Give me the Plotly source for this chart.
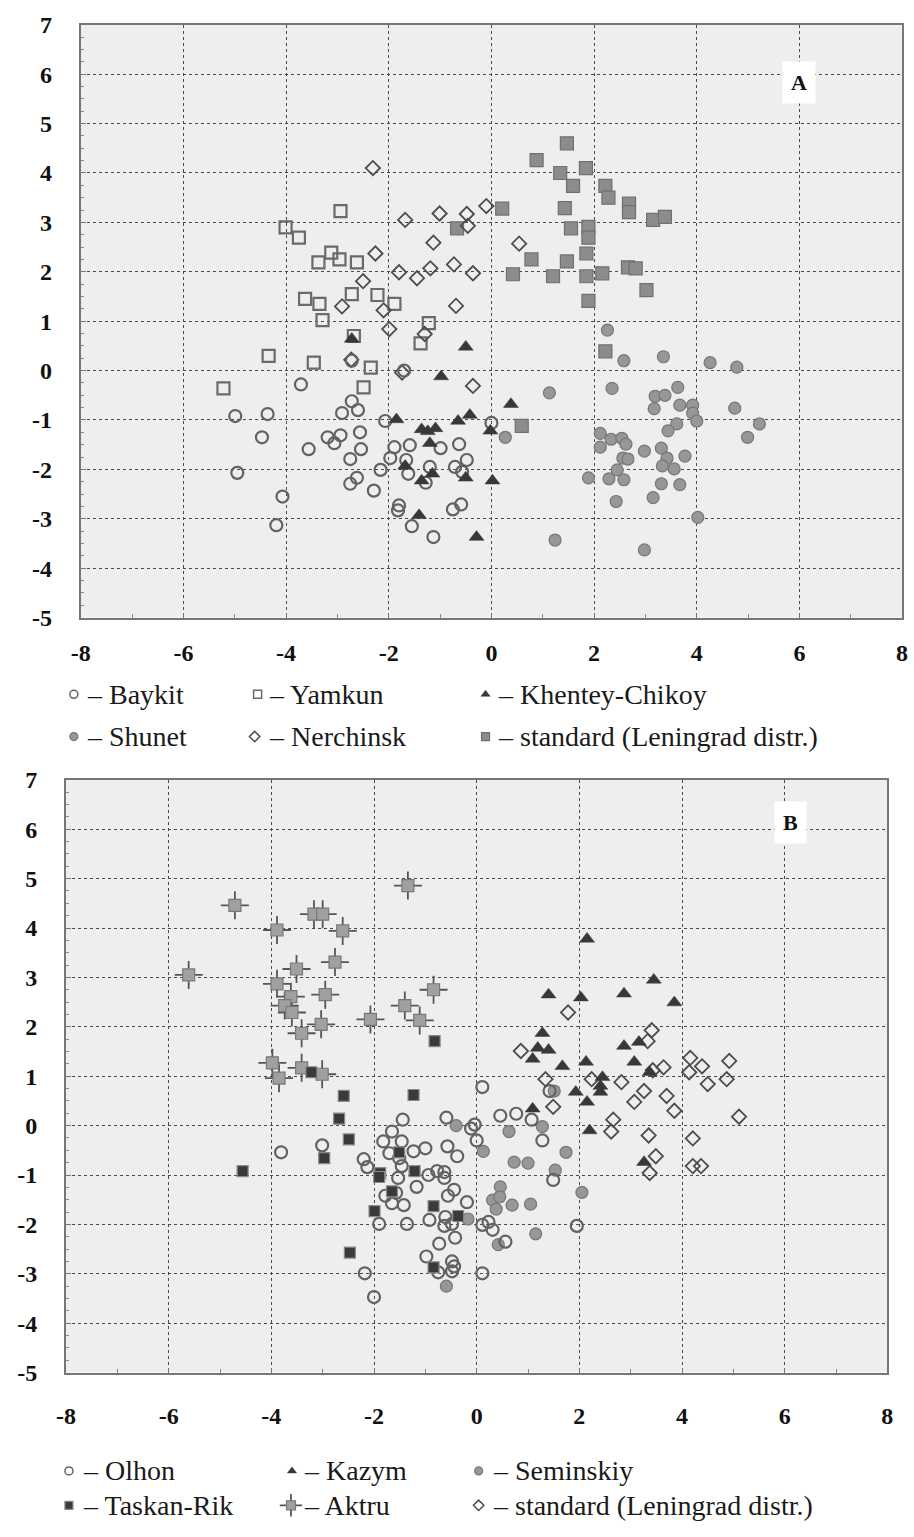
import plotly.graph_objects as go

# ---------------- Panel A data ----------------
baykit = [(-3.71,-0.28),(-4.99,-0.92),(-4.36,-0.88),(-4.47,-1.35),(-4.95,-2.07),(-4.07,-2.55),(-4.19,-3.13),
          (-3.56,-1.59),(-3.19,-1.35),(-3.06,-1.47),(-2.94,-1.31),(-2.91,-0.86),(-2.72,-0.62),(-2.60,-0.80),
          (-2.56,-1.25),(-2.54,-1.59),(-2.75,-1.79),(-2.75,-2.29),(-2.62,-2.17),(-2.29,-2.43),(-2.72,0.20),
          (-2.07,-1.02),(-2.16,-2.01),(-1.97,-1.77),(-1.89,-1.55),(-1.66,-1.81),(-1.62,-2.09),(-1.59,-1.51),
          (-1.20,-1.95),(-1.28,-2.27),(-0.99,-1.57),(-1.80,-2.73),(-1.82,-2.83),(-1.55,-3.15),(-1.13,-3.37),
          (0.00,-1.06),(-0.63,-1.49),(-0.48,-1.81),(-0.71,-1.95),(-0.59,-2.71),(-0.75,-2.81),(-0.57,-2.05),
          (-1.70,0.00)]
yamkun = [(-5.22,-0.36),(-4.34,0.30),(-3.46,0.16),(-4.01,2.90),(-3.75,2.69),(-2.94,3.23),(-3.37,2.19),
          (-3.12,2.39),(-2.96,2.25),(-2.62,2.19),(-3.63,1.45),(-3.35,1.35),(-3.29,1.02),(-2.72,1.55),
          (-2.22,1.53),(-1.89,1.35),(-1.22,0.96),(-2.68,0.70),(-1.38,0.55),(-2.35,0.06),(-2.49,-0.34)]
khentey = [(-0.50,0.48),(-0.98,-0.12),(0.38,-0.68),(-1.85,-0.99),(-1.36,-1.19),(-1.24,-1.23),(-1.09,-1.17),
           (-0.65,-1.02),(-0.42,-0.90),(-0.02,-1.22),(-1.68,-1.93),(-1.15,-2.09),(-1.36,-2.23),(-0.50,-2.17),
           (0.02,-2.23),(-1.41,-2.93),(-0.29,-3.37),(-2.72,0.64),(-1.20,-1.47)]
shunet = [(2.26,0.82),(2.58,0.20),(3.35,0.28),(4.26,0.16),(4.78,0.07),(2.35,-0.36),(1.13,-0.45),(3.63,-0.34),
          (3.19,-0.52),(3.38,-0.50),(3.17,-0.77),(3.67,-0.70),(3.92,-0.70),(3.92,-0.86),(4.00,-1.02),(4.74,-0.76),
          (5.22,-1.08),(4.99,-1.35),(3.61,-1.08),(3.44,-1.22),(0.27,-1.35),(2.12,-1.27),(2.12,-1.55),(2.33,-1.39),
          (2.54,-1.37),(2.62,-1.49),(2.56,-1.77),(2.66,-1.79),(2.98,-1.63),(3.31,-1.57),(3.42,-1.77),(3.33,-1.93),
          (3.77,-1.73),(3.56,-1.99),(2.45,-2.01),(1.89,-2.17),(2.29,-2.19),(2.58,-2.21),(3.31,-2.29),(3.67,-2.31),
          (2.43,-2.65),(3.15,-2.57),(4.02,-2.97),(1.24,-3.43),(2.98,-3.63)]
nerchinsk = [(-2.31,4.10),(-1.68,3.05),(-1.01,3.18),(-1.13,2.59),(-0.73,2.15),(-2.26,2.37),(-1.80,1.99),
             (-1.45,1.87),(-1.19,2.07),(-2.50,1.81),(-2.91,1.30),(-2.10,1.22),(-1.99,0.84),(-0.69,1.31),
             (-0.10,3.33),(-0.48,3.17),(-0.46,2.93),(0.54,2.57),(-0.36,1.97),(-1.30,0.74),(-1.74,-0.04),
             (-0.36,-0.31),(-2.73,0.22)]
standard_a = [(1.47,4.60),(0.88,4.26),(1.34,4.00),(1.84,4.10),(1.59,3.74),(2.22,3.74),(2.28,3.50),(2.68,3.38),
              (2.68,3.21),(3.15,3.05),(3.38,3.11),(0.21,3.28),(-0.67,2.88),(1.43,3.29),(1.55,2.88),(1.89,2.91),
              (1.89,2.69),(1.85,2.37),(0.78,2.25),(1.47,2.21),(0.42,1.95),(1.20,1.91),(1.85,1.91),(2.16,1.97),
              (2.66,2.09),(2.81,2.07),(3.02,1.63),(1.89,1.41),(2.22,0.39),(0.59,-1.12)]

# ---------------- Panel B data ----------------
olhon = [(-3.81,-0.54),(-3.01,-0.40),(0.11,0.78),(-1.44,0.12),(-0.59,0.16),(0.46,0.20),(0.77,0.24),(1.07,0.12),
         (-1.65,-0.12),(-1.82,-0.32),(-1.46,-0.32),(-0.11,-0.06),(-0.04,0.02),(0.00,-0.30),(-0.57,-0.42),
         (-1.00,-0.46),(-1.23,-0.52),(-1.70,-0.56),(-0.38,-0.62),(-2.20,-0.68),(-2.13,-0.84),(-1.51,-0.66),
         (-1.46,-0.82),(-1.53,-1.06),(-0.94,-1.00),(-0.77,-0.92),(-0.63,-0.94),(-0.63,-1.06),(-1.17,-1.24),
         (-1.78,-1.42),(-1.57,-1.36),(-1.65,-1.57),(-1.42,-1.61),(-0.44,-1.30),(-0.56,-1.42),(-0.19,-1.55),
         (-1.90,-1.99),(-1.36,-1.99),(-0.92,-1.91),(-0.61,-1.85),(-0.63,-2.03),(-0.48,-1.99),(0.11,-2.01),
         (0.23,-1.95),(0.31,-2.11),(-0.42,-2.27),(-0.73,-2.39),(0.56,-2.35),(-0.98,-2.65),(-0.48,-2.75),
         (-0.44,-2.85),(-0.75,-2.97),(-0.48,-2.95),(0.11,-2.99),(-2.18,-2.99),(-2.00,-3.47),(1.28,-0.30),
         (1.49,-1.10),(1.95,-2.03),(1.42,0.70)]
kazym = [(2.15,3.78),(3.45,2.95),(1.40,2.65),(2.03,2.59),(2.87,2.67),(3.85,2.49),(1.28,1.87),(1.19,1.57),
         (1.40,1.53),(1.09,1.35),(1.67,1.20),(2.13,1.29),(2.87,1.61),(3.16,1.69),(3.07,1.29),(3.37,1.08),
         (2.45,0.98),(1.09,0.34),(2.41,0.68),(1.93,0.68),(2.15,0.48),(2.20,-0.10),(3.26,-0.74),(2.41,0.80)]
seminskiy = [(-0.40,0.00),(0.63,-0.12),(1.28,-0.02),(1.51,0.70),(0.13,-0.52),(0.73,-0.74),(1.00,-0.76),
             (1.74,-0.54),(1.53,-0.90),(0.46,-1.24),(0.31,-1.51),(0.38,-1.69),(0.69,-1.61),(1.05,-1.59),
             (1.15,-2.19),(-0.17,-1.89),(0.42,-2.41),(-0.59,-3.25),(2.05,-1.35),(0.45,-1.44)]
taskan = [(-0.82,1.71),(-3.22,1.08),(-2.59,0.60),(-1.23,0.62),(-2.68,0.14),(-2.49,-0.28),(-2.97,-0.66),
          (-4.56,-0.92),(-1.88,-0.96),(-1.90,-1.04),(-1.51,-0.54),(-1.21,-0.92),(-1.65,-1.33),(-1.99,-1.73),
          (-0.84,-1.63),(-0.36,-1.83),(-2.47,-2.57),(-0.84,-2.87)]
aktru = [(-5.61,3.05),(-4.71,4.46),(-3.89,3.96),(-3.17,4.28),(-3.00,4.28),(-2.61,3.94),(-1.34,4.86),
         (-3.51,3.17),(-2.76,3.31),(-3.89,2.87),(-3.62,2.61),(-3.74,2.43),(-3.60,2.29),(-2.95,2.65),
         (-3.03,2.05),(-3.41,1.87),(-2.07,2.15),(-1.40,2.43),(-1.11,2.13),(-0.84,2.75),(-3.98,1.27),
         (-3.85,0.96),(-3.41,1.17),(-3.01,1.04)]
standard_b = [(1.78,2.29),(0.86,1.51),(3.41,1.93),(3.33,1.71),(4.16,1.37),(4.39,1.20),(4.92,1.31),(3.64,1.18),
              (4.14,1.08),(1.34,0.94),(2.24,0.94),(2.82,0.88),(3.43,1.12),(4.50,0.84),(4.87,0.94),(3.26,0.70),
              (3.07,0.48),(3.70,0.60),(1.49,0.38),(3.85,0.30),(5.11,0.18),(2.66,0.12),(2.62,-0.12),(3.35,-0.20),
              (4.21,-0.26),(3.49,-0.62),(3.37,-0.96),(4.21,-0.82),(4.37,-0.82)]

x_ticks = [-8, -6, -4, -2, 0, 2, 4, 6, 8]
y_ticks = [-5, -4, -3, -2, -1, 0, 1, 2, 3, 4, 5, 6, 7]

legend_a = ["– Baykit", "– Yamkun", "– Khentey-Chikoy", "– Shunet", "– Nerchinsk", "– standard (Leningrad distr.)"]
legend_b = ["– Olhon", "– Kazym", "– Seminskiy", "– Taskan-Rik", "– Aktru", "– standard (Leningrad distr.)"]

# ---------------- styles ----------------
W, H = 914, 1537
PLOT_BG = "#eeeeee"
SERIF = "Liberation Serif"
ST = {
    "ocircle": dict(symbol="circle-open", size=12, color="#626262", line=dict(width=2.2, color="#626262")),
    "fcircle": dict(symbol="circle", size=12, color="#979797", line=dict(width=1.2, color="#777777")),
    "osquare": dict(symbol="square-open", size=12, color="#6a6a6a", line=dict(width=2.2, color="#6a6a6a")),
    "tri": dict(symbol="triangle-up", size=13, color="#383838", line=dict(width=0.5, color="#383838")),
    "odiam": dict(symbol="diamond-open", size=11, color="#4c4c4c", line=dict(width=1.8, color="#4c4c4c")),
    "gsquare": dict(symbol="square", size=13, color="#8c8c8c", line=dict(width=1.2, color="#707070")),
    "dsquare": dict(symbol="square", size=11, color="#3a3a3a", line=dict(width=1.2, color="#8a8a8a")),
    "aktru_sq": dict(symbol="square", size=12, color="#a0a0a0", line=dict(width=1.2, color="#787878")),
    "aktru_cr": dict(symbol="cross-thin", size=20, color="#555555", line=dict(width=1.8, color="#555555")),
}

fig = go.Figure()

def add(series, style, xa, ya):
    fig.add_trace(go.Scatter(x=[p[0] for p in series], y=[p[1] for p in series], mode="markers",
                             marker=dict(ST[style]), xaxis=xa, yaxis=ya, showlegend=False, hoverinfo="skip"))

# Panel A (x, y)
add(standard_a, "gsquare", "x", "y")
add(shunet, "fcircle", "x", "y")
add(yamkun, "osquare", "x", "y")
add(nerchinsk, "odiam", "x", "y")
add(baykit, "ocircle", "x", "y")
add(khentey, "tri", "x", "y")

# Panel B (x2, y2)
add(aktru, "aktru_cr", "x2", "y2")
add(aktru, "aktru_sq", "x2", "y2")
add(seminskiy, "fcircle", "x2", "y2")
add(olhon, "ocircle", "x2", "y2")
add(standard_b, "odiam", "x2", "y2")
add(kazym, "tri", "x2", "y2")
add(taskan, "dsquare", "x2", "y2")

# ---------------- legend glyphs on a pixel overlay ----------------
leg_a_sym = ["ocircle", "osquare", "tri", "fcircle", "odiam", "gsquare"]
leg_a_pos = [(65, 693), (252, 693), (484, 693), (65, 736), (249, 736), (484, 736)]
leg_a_txt = [(76, 693), (262, 693), (495, 693), (76, 736), (262, 736), (495, 736)]
leg_b_sym = ["ocircle", "tri", "fcircle", "dsquare", None, "odiam"]
leg_b_pos = [(60, 1483), (287, 1483), (477, 1483), (60, 1518), (286, 1518), (477, 1518)]
leg_b_txt = [(72, 1483), (297, 1483), (490, 1483), (72, 1518), (297, 1518), (490, 1518)]

for sym, (px, py) in list(zip(leg_a_sym, leg_a_pos)) + list(zip(leg_b_sym, leg_b_pos)):
    if sym is None:
        for s, sz in (("aktru_cr", 16), ("aktru_sq", 9)):
            m = dict(ST[s]); m["size"] = sz
            fig.add_trace(go.Scatter(x=[px], y=[py], mode="markers", marker=m, xaxis="x3", yaxis="y3",
                                     showlegend=False, hoverinfo="skip"))
    else:
        m = dict(ST[sym]); m["size"] = 8
        m["line"] = dict(m["line"]); m["line"]["width"] = min(m["line"]["width"], 1.5)
        fig.add_trace(go.Scatter(x=[px], y=[py], mode="markers", marker=m, xaxis="x3", yaxis="y3",
                                 showlegend=False, hoverinfo="skip"))

annotations = []
for txt, (px, py) in list(zip(legend_a, leg_a_txt)) + list(zip(legend_b, leg_b_txt)):
    annotations.append(dict(x=px / W, y=1 - py / H, xref="paper", yref="paper", text=txt, showarrow=False,
                            xanchor="left", yanchor="middle",
                            font=dict(family=SERIF, size=28, color="#1a1a1a")))

for lab, (px, py) in (("A", (803, 71)), ("B", (794, 823))):
    annotations.append(dict(x=px / W, y=1 - py / H, xref="paper", yref="paper", text="<b>%s</b>" % lab,
                            showarrow=False, xanchor="center", yanchor="middle", bgcolor="white",
                            borderpad=8, font=dict(family=SERIF, size=22, color="#111")))

# plot-area backgrounds drawn as shapes (the full-page overlay axes would otherwise hide them)
shapes = [dict(type="rect", xref="x domain", yref="y domain", x0=0, x1=1, y0=0, y1=1,
               fillcolor=PLOT_BG, line=dict(width=0), layer="below"),
          dict(type="rect", xref="x2 domain", yref="y2 domain", x0=0, x1=1, y0=0, y1=1,
               fillcolor=PLOT_BG, line=dict(width=0), layer="below")]

def tf():
    return dict(family=SERIF, size=24, color="#111111", weight="bold")

def xax(domain, anchor, standoff):
    return dict(domain=domain, anchor=anchor, range=[-8, 8], tickmode="array", tickvals=x_ticks,
                ticktext=[str(v) for v in x_ticks], tickfont=tf(),
                showgrid=True, gridcolor="#4a4a4a", griddash="dot", gridwidth=1.2,
                zeroline=False, showline=True, linecolor="#777777", linewidth=2, mirror=True,
                ticks="inside", ticklen=5, tickcolor="#777", ticklabelstandoff=standoff,
                minor=dict(dtick=1, ticks="inside", ticklen=4, tickcolor="#888", showgrid=False),
                fixedrange=True)

def yax(domain, anchor):
    return dict(domain=domain, anchor=anchor, range=[-5, 7], tickmode="array", tickvals=y_ticks,
                ticktext=[str(v) for v in y_ticks], tickfont=tf(),
                showgrid=True, gridcolor="#4a4a4a", griddash="dot", gridwidth=1.2,
                zeroline=False, showline=True, linecolor="#777777", linewidth=2, mirror=True,
                ticks="inside", ticklen=5, tickcolor="#777", ticklabelstandoff=22,
                minor=dict(dtick=0.25, ticks="inside", ticklen=3, tickcolor="#888", showgrid=False),
                fixedrange=True)

fig.update_layout(
    width=W, height=H, margin=dict(l=0, r=0, t=0, b=0),
    font=dict(family=SERIF, size=24, color="#111111"),
    paper_bgcolor="white", plot_bgcolor="rgba(0,0,0,0)",
    xaxis=xax([72 / W, 908 / W], "y", 13),
    yaxis=yax([1 - 615 / H, 1 - 12 / H], "x"),
    xaxis2=xax([57 / W, 893 / W], "y2", 21),
    yaxis2=yax([1 - 1383 / H, 1 - 780 / H], "x2"),
    xaxis3=dict(domain=[0, 1], range=[0, W], visible=False, anchor="y3", fixedrange=True),
    yaxis3=dict(domain=[0, 1], range=[H, 0], visible=False, anchor="x3", fixedrange=True),
    annotations=annotations,
    shapes=shapes,
    showlegend=False,
)

fig.write_html("out.html")
